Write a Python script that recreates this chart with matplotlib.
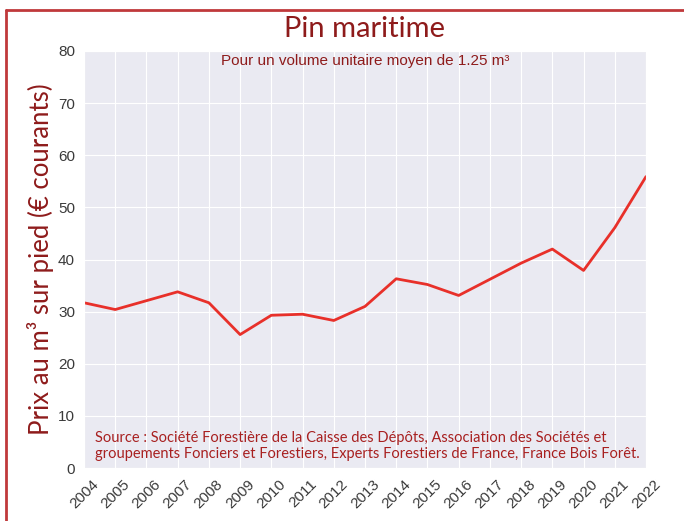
import matplotlib.pyplot as plt
import seaborn as sns
from matplotlib.lines import Line2D

years = list(range(2004, 2023))
prix = [31.7, 30.4, 32.1, 33.8, 31.7, 25.6, 29.3, 29.5, 28.3, 31.0,
        36.3, 35.2, 33.1, 36.2, 39.3, 42.0, 37.9, 46.1, 55.9]
yticks = [0, 10, 20, 30, 40, 50, 60, 70, 80]

sns.set_style('darkgrid')
plt.rcParams['font.family'] = ['Liberation Sans', 'DejaVu Sans']

dark_red = '#8e1b1b'

fig = plt.figure(figsize=(6.84, 5.21), dpi=100)
ax = fig.add_axes([84 / 684, 1 - 468 / 521, 562 / 684, 417 / 521])

ax.plot(years, prix, color='#e8302a', linewidth=2)

ax.set_xlim(2004, 2022)
ax.set_ylim(0, 80)
ax.set_xticks(years)
ax.set_yticks(yticks)
ax.tick_params(axis='both', labelsize=11, labelcolor='#3a3a3a', pad=3)
for lab in ax.get_xticklabels():
    lab.set_rotation(45)

ax.set_ylabel('Prix au m³ sur pied (€ courants)', fontsize=18.5,
              color=dark_red, family=['Lato', 'DejaVu Sans'], labelpad=3)

fig.text(365 / 684, 1 - 29 / 521, 'Pin maritime', fontsize=21, color=dark_red,
         ha='center', va='center', family=['Lato', 'DejaVu Sans'])
fig.text(365 / 684, 1 - 61 / 521, 'Pour un volume unitaire moyen de 1.25 m³',
         fontsize=11, color=dark_red, ha='center', va='center')
ax.text(0.02, 0.016,
        'Source : Société Forestière de la Caisse des Dépôts, Association des Sociétés et\n'
        'groupements Fonciers et Forestiers, Experts Forestiers de France, France Bois Forêt.',
        transform=ax.transAxes, fontsize=10.5, color='#a82020', ha='left', va='bottom',
        family=['Lato', 'DejaVu Sans'], linespacing=1.25)

# cadre rouge
fig.add_artist(Line2D([6 / 684, 1], [1 - 10 / 521, 1 - 10 / 521],
                      transform=fig.transFigure, color='#c0393b', linewidth=2))
fig.add_artist(Line2D([6 / 684, 6 / 684], [1 - 10 / 521, 0],
                      transform=fig.transFigure, color='#c0393b', linewidth=2))

fig.savefig('out.png', dpi=100, facecolor='white')
